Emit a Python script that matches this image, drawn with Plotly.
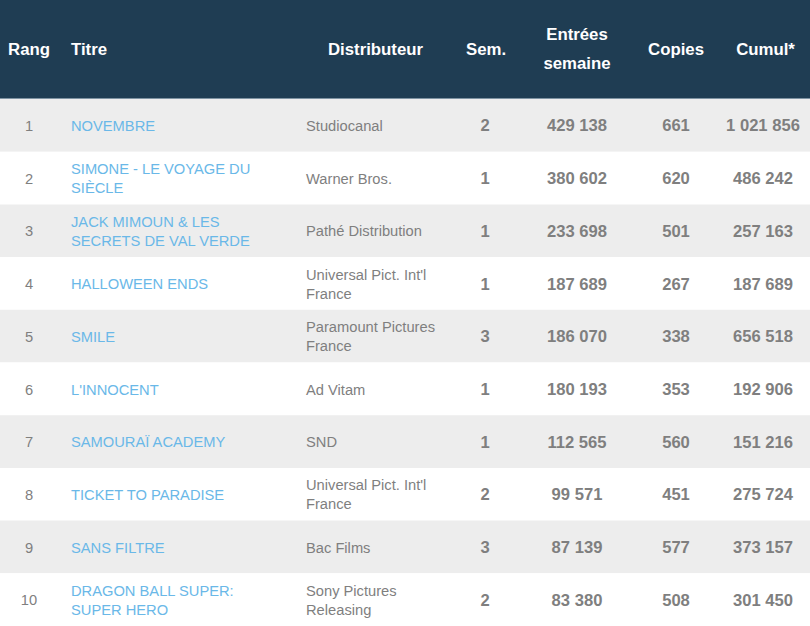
"""Box-office table: top 10 de la semaine."""
import plotly.graph_objects as go

ranks = [1, 2, 3, 4, 5, 6, 7, 8, 9, 10]
titles = ["NOVEMBRE", "SIMONE - LE VOYAGE DU<br>SIÈCLE", "JACK MIMOUN & LES<br>SECRETS DE VAL VERDE",
          "HALLOWEEN ENDS", "SMILE", "L'INNOCENT", "SAMOURAÏ ACADEMY", "TICKET TO PARADISE",
          "SANS FILTRE", "DRAGON BALL SUPER:<br>SUPER HERO"]
distributors = ["Studiocanal", "Warner Bros.", "Pathé Distribution", "Universal Pict. Int'l<br>France",
                "Paramount Pictures<br>France", "Ad Vitam", "SND", "Universal Pict. Int'l<br>France",
                "Bac Films", "Sony Pictures<br>Releasing"]
weeks = [2, 1, 1, 1, 3, 1, 1, 2, 3, 2]
entries = [429138, 380602, 233698, 187689, 186070, 180193, 112565, 99571, 87139, 83380]
copies = [661, 620, 501, 267, 338, 353, 560, 451, 577, 508]
cumul = [1021856, 486242, 257163, 187689, 656518, 192906, 151216, 275724, 373157, 301450]

W, H = 810, 626
HEAD_H = 99
ROW_H = (H - HEAD_H) / len(ranks)
TEXT_DY = 2  # plotly's "middle" sits a touch high
NAVY = "#1f3d53"
GREY_BG = "#ededed"
BLUE = "#6ab8e8"
GREY_TXT = "#7f7f7f"
FONT = "Liberation Sans, Arial, sans-serif"

def fmt(v):
    return f"{v:,}".replace(",", " ")

row_y = [HEAD_H + (i + 0.5) * ROW_H for i in range(len(ranks))]
text_y = [y + TEXT_DY for y in row_y]

fig = go.Figure()

# backgrounds
fig.add_trace(go.Bar(orientation="h", y=[HEAD_H / 2], x=[W], width=HEAD_H,
                     marker=dict(color=NAVY, line_width=0), hoverinfo="skip"))
fig.add_trace(go.Bar(orientation="h", y=row_y, x=[W] * len(ranks), width=ROW_H,
                     marker=dict(color=[GREY_BG if i % 2 == 0 else "white" for i in range(len(ranks))],
                                 line_width=0),
                     hoverinfo="skip"))

def col(x, texts, pos, color, size, bold=False):
    fig.add_trace(go.Scatter(
        x=[x] * len(texts), y=text_y, text=texts, mode="text", textposition=pos,
        textfont=dict(family=FONT, size=size, color=color, weight="bold" if bold else "normal"),
        hoverinfo="skip", cliponaxis=False,
    ))

col(29, [str(r) for r in ranks], "middle center", GREY_TXT, 14.7)
col(71, titles, "middle right", BLUE, 14.7)
col(306, distributors, "middle right", GREY_TXT, 14.7)
col(485, [str(w) for w in weeks], "middle center", GREY_TXT, 16.6, True)
col(577, [fmt(v) for v in entries], "middle center", GREY_TXT, 16.6, True)
col(676, [str(c) for c in copies], "middle center", GREY_TXT, 16.6, True)
col(763, [fmt(v) for v in cumul], "middle center", GREY_TXT, 16.6, True)

# header labels
head_lbl = ["Rang", "Titre", "Distributeur", "Sem.", "Entrées", "semaine", "Copies", "Cumul*"]
head_x = [29, 71, 375.5, 486, 577, 577, 676, 765.5]
head_y = [49, 49, 49, 49, 34, 63, 49, 49]
head_pos = ["middle center", "middle right"] + ["middle center"] * 6
fig.add_trace(go.Scatter(
    x=head_x, y=[y + TEXT_DY for y in head_y], text=head_lbl, mode="text", textposition=head_pos,
    textfont=dict(family=FONT, size=16.8, color="white", weight="bold"),
    hoverinfo="skip", cliponaxis=False,
))

# thin light rule under the header
fig.add_shape(type="line", x0=0, x1=W, y0=HEAD_H - 0.5, y1=HEAD_H - 0.5,
              line=dict(color="#7e93a2", width=1.2), layer="above")

fig.update_layout(
    width=W, height=H, margin=dict(l=0, r=0, t=0, b=0),
    paper_bgcolor="white", plot_bgcolor="white",
    barmode="overlay", showlegend=False,
)
fig.update_xaxes(range=[0, W], visible=False, fixedrange=True)
fig.update_yaxes(range=[H, 0], visible=False, fixedrange=True)

fig.write_html("out.html", config={"displayModeBar": False},
               post_script="document.body.style.margin='0';document.body.style.overflow='hidden';")
